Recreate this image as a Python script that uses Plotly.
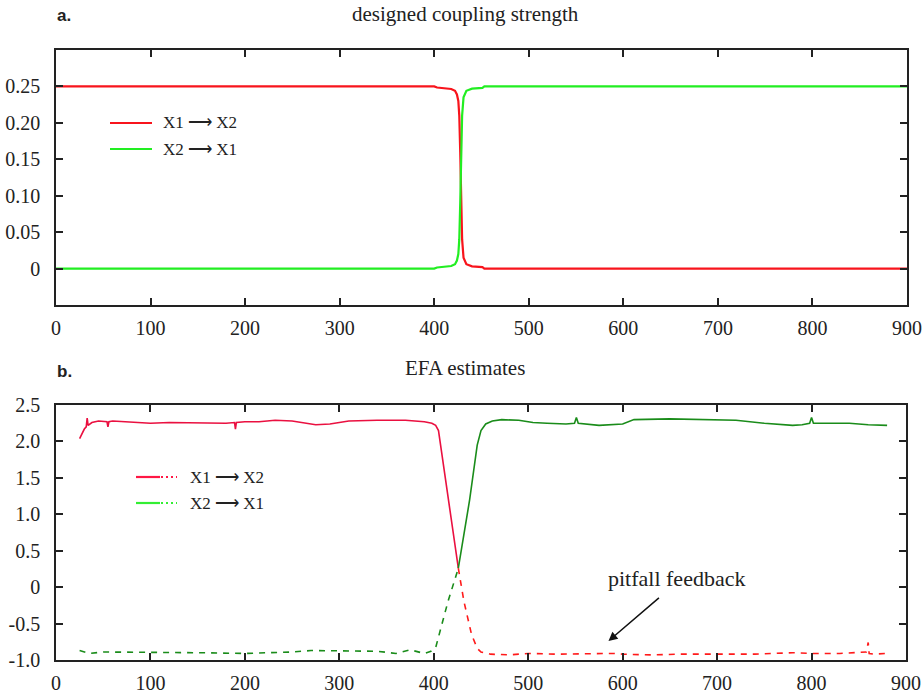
import plotly.graph_objects as go

# ---------------- data ----------------
# panel a: designed coupling strength
a_x = [0, 400, 403, 410, 418, 422, 424, 425.5, 426.5, 427.5, 428, 428.5, 429.5, 431, 434, 440, 451, 453, 900]
a_x1x2 = [0.25, 0.25, 0.2485, 0.248, 0.2465, 0.244, 0.239, 0.23, 0.21, 0.16, 0.125, 0.09, 0.04, 0.015, 0.006, 0.003, 0.002, 0.0, 0.0]
a_x2x1 = [0.0, 0.0, 0.0015, 0.002, 0.0035, 0.006, 0.011, 0.02, 0.04, 0.09, 0.125, 0.16, 0.21, 0.235, 0.244, 0.247, 0.248, 0.25, 0.25]

# panel b: EFA estimates
b_red_solid_x = [25, 27, 30, 32, 33, 34, 38, 45, 54, 55, 56, 60, 80, 100, 120, 150, 180, 189, 190, 191,
                 200, 215, 232, 250, 262, 275, 290, 310, 340, 370, 390, 398, 402, 405, 426]
b_red_solid_y = [2.04, 2.1, 2.17, 2.2, 2.32, 2.22, 2.26, 2.28, 2.27, 2.2, 2.27, 2.28, 2.27, 2.25, 2.26, 2.25, 2.25, 2.26, 2.17, 2.26,
                 2.27, 2.27, 2.29, 2.28, 2.26, 2.23, 2.24, 2.28, 2.29, 2.29, 2.27, 2.25, 2.22, 2.15, 0.26]
b_red_dash_x = [426, 432, 440, 446, 450, 460, 480, 500, 530, 560, 590, 600, 630, 660, 700, 740, 780, 800, 830, 858, 860, 861, 866, 878]
b_red_dash_y = [0.26, -0.2, -0.65, -0.84, -0.89, -0.92, -0.93, -0.91, -0.92, -0.91, -0.91, -0.92, -0.93, -0.92, -0.92, -0.92,
                -0.90, -0.91, -0.91, -0.89, -0.76, -0.91, -0.92, -0.91]
b_green_dash_x = [25, 35, 50, 100, 150, 200, 250, 270, 300, 340, 360, 375, 390, 397, 402, 408, 415, 426]
b_green_dash_y = [-0.87, -0.91, -0.89, -0.89, -0.90, -0.91, -0.89, -0.87, -0.87, -0.88, -0.91, -0.86, -0.91, -0.88, -0.83, -0.55, -0.2, 0.26]
b_green_solid_x = [426, 438, 446, 450, 455, 462, 472, 490, 500, 505, 520, 540, 549, 551, 553, 575, 600, 612, 650, 700, 720, 750,
                   780, 790, 798, 800, 802, 810, 840, 860, 880]
b_green_solid_y = [0.26, 1.2, 1.95, 2.15, 2.24, 2.28, 2.30, 2.29, 2.27, 2.26, 2.25, 2.24, 2.25, 2.33, 2.25, 2.22, 2.24, 2.3, 2.31, 2.29,
                   2.29, 2.25, 2.22, 2.23, 2.25, 2.33, 2.25, 2.25, 2.25, 2.23, 2.22]

x_ticks = [0, 100, 200, 300, 400, 500, 600, 700, 800, 900]
a_y_ticks = [0, 0.05, 0.10, 0.15, 0.20, 0.25]
a_y_text = ["0", "0.05", "0.10", "0.15", "0.20", "0.25"]
b_y_ticks = [-1.0, -0.5, 0, 0.5, 1.0, 1.5, 2.0, 2.5]
b_y_text = ["-1.0", "-0.5", "0", "0.5", "1.0", "1.5", "2.0", "2.5"]

SERIF = "Liberation Serif"
TXT = "#222222"

fig = go.Figure()

fig.add_trace(go.Scatter(x=a_x, y=a_x1x2, mode="lines", line=dict(color="#f8141c", width=2.2),
                         xaxis="x", yaxis="y", showlegend=False))
fig.add_trace(go.Scatter(x=a_x, y=a_x2x1, mode="lines", line=dict(color="#22ee22", width=2.2),
                         xaxis="x", yaxis="y", showlegend=False))

fig.add_trace(go.Scatter(x=b_red_solid_x, y=b_red_solid_y, mode="lines", line=dict(color="#ea1040", width=1.6),
                         xaxis="x2", yaxis="y2", showlegend=False))
fig.add_trace(go.Scatter(x=b_red_dash_x, y=b_red_dash_y, mode="lines",
                         line=dict(color="#ff1a1a", width=1.6, dash="6px,6px"),
                         xaxis="x2", yaxis="y2", showlegend=False))
fig.add_trace(go.Scatter(x=b_green_dash_x, y=b_green_dash_y, mode="lines",
                         line=dict(color="#1a8c1a", width=1.6, dash="6px,6px"),
                         xaxis="x2", yaxis="y2", showlegend=False))
fig.add_trace(go.Scatter(x=b_green_solid_x, y=b_green_solid_y, mode="lines", line=dict(color="#1a8c1a", width=1.6),
                         xaxis="x2", yaxis="y2", showlegend=False))

axis_common = dict(showline=True, linecolor="#222", linewidth=1.5, mirror="ticks", ticks="inside",
                   ticklen=7, tickwidth=1.5, tickcolor="#222", showgrid=False, zeroline=False,
                   automargin=False,
                   tickfont=dict(family=SERIF, size=20, color=TXT))

fig.update_layout(
    width=923, height=694,
    margin=dict(l=56, r=16, t=50, b=34, autoexpand=False),
    plot_bgcolor="white", paper_bgcolor="white",
    xaxis=dict(domain=[0, 1], range=[0, 900], tickvals=x_ticks, anchor="y",
               ticklabelstandoff=4, **axis_common),
    yaxis=dict(domain=[0.582, 1], range=[-0.05, 0.30], tickvals=a_y_ticks, ticktext=a_y_text, anchor="x",
               ticklabelstandoff=10, **axis_common),
    xaxis2=dict(domain=[0, 0.9988], range=[0, 900], tickvals=x_ticks, anchor="y2",
                ticklabelstandoff=4, **axis_common),
    yaxis2=dict(domain=[0, 0.418], range=[-1.0, 2.5], tickvals=b_y_ticks, ticktext=b_y_text, anchor="x2",
                ticklabelstandoff=10, **axis_common),
)

# ---- titles and panel labels ----
def ptext(x, y, text, size, family=SERIF, xanchor="center", bold=False):
    fig.add_annotation(x=x, y=y, xref="paper", yref="paper", text=("<b>%s</b>" % text) if bold else text,
                       showarrow=False, xanchor=xanchor, yanchor="middle",
                       font=dict(family=family, size=size, color=TXT))

W = 923 - 56 - 16
H = 694 - 50 - 34
def px(xp):
    return (xp - 56) / W
def py(yp):
    return 1 - (yp - 50) / H

ptext(px(55), py(15), "a.", 17, family="Liberation Sans", xanchor="left", bold=True)
ptext(px(465), py(14), "designed coupling strength", 21)
ptext(px(55), py(371), "b.", 17, family="Liberation Sans", xanchor="left", bold=True)
ptext(px(465), py(368), "EFA estimates", 21)

# ---- legend panel a ----
leg_a = [("X1 ⟶ X2", "#f8141c", 123), ("X2 ⟶ X1", "#22ee22", 149)]
for label, col, yy in leg_a:
    fig.add_shape(type="line", xref="paper", yref="paper", x0=px(110), x1=px(152), y0=py(yy), y1=py(yy),
                  line=dict(color=col, width=2.2))
    ptext(px(161), py(yy), label, 17, xanchor="left")

# ---- legend panel b (solid + dotted sample) ----
leg_b = [("X1 ⟶ X2", "#ff1744", 477), ("X2 ⟶ X1", "#33ee33", 503)]
for label, col, yy in leg_b:
    fig.add_shape(type="line", xref="paper", yref="paper", x0=px(136), x1=px(160), y0=py(yy), y1=py(yy),
                  line=dict(color=col, width=2.2))
    fig.add_shape(type="line", xref="paper", yref="paper", x0=px(161), x1=px(177), y0=py(yy), y1=py(yy),
                  line=dict(color=col, width=2.2, dash="2px,3px"))
    ptext(px(188), py(yy), label, 17, xanchor="left")

# ---- pitfall feedback annotation ----
fig.add_annotation(x=657, y=0.12, xref="x2", yref="y2", text="pitfall feedback", showarrow=False,
                   font=dict(family=SERIF, size=22, color=TXT))
fig.add_annotation(x=585, y=-0.74, ax=640, ay=-0.13, xref="x2", yref="y2", axref="x2", ayref="y2",
                   text="", showarrow=True, arrowhead=2, arrowsize=1.2, arrowwidth=1.5, arrowcolor="#111")

fig.write_html("out.html")
